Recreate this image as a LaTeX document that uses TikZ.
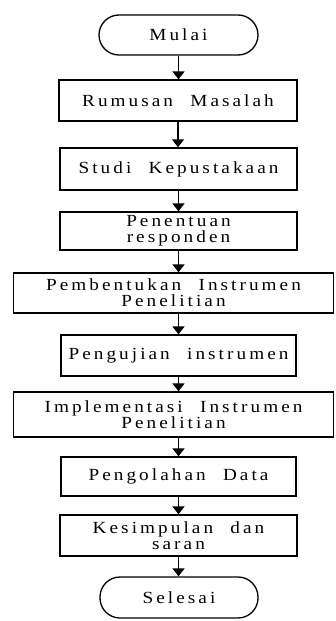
\documentclass[tikz,border=0pt]{standalone}
\usepackage{fontspec}
\setmainfont{Liberation Serif}[FakeStretch=1.13,LetterSpace=18,WordSpace=2.2]
\usetikzlibrary{arrows.meta}
\begin{document}
\begin{tikzpicture}[x=1pt,y=-1pt,
  font=\fontsize{17pt}{16pt}\selectfont,
  box/.style={draw,line width=1.3pt,rectangle,align=center,inner sep=0pt},
  term/.style={draw,line width=1.3pt,rounded corners=20pt,align=center,inner sep=0pt},
  arr/.style={line width=1.3pt,-{Triangle[width=12pt,length=8pt]}}]
\useasboundingbox (0,0) rectangle (335,621);
\node[term,minimum width=159pt,minimum height=40pt] (mulai) at (178.5,35) {Mulai};
\node[box,minimum width=238pt,minimum height=41pt] (rum) at (178,100.5) {Rumusan Masalah};
\node[box,minimum width=237pt,minimum height=42pt] (stu) at (178.5,169) {Studi Kepustakaan};
\node[box,minimum width=237pt,minimum height=38pt] (pen) at (178.5,231) {Penentuan\\responden};
\node[box,minimum width=320pt,minimum height=40pt] (pem) at (173.5,293) {Pembentukan Instrumen\\Penelitian};
\node[box,minimum width=235pt,minimum height=41pt] (uji) at (178.5,355.5) {Pengujian instrumen};
\node[box,minimum width=320pt,minimum height=45pt] (imp) at (173.5,414.5) {Implementasi Instrumen\\Penelitian};
\node[box,minimum width=235pt,minimum height=39pt] (olah) at (178.5,476.5) {Pengolahan Data};
\node[box,minimum width=237pt,minimum height=41pt] (kes) at (178.5,535.5) {Kesimpulan dan\\saran};
\node[term,minimum width=158pt,minimum height=41pt] (sel) at (179,597.5) {Selesai};
\draw[arr] (mulai.south) -- (mulai.south |- rum.north);
\draw[arr] (rum.south) -- (rum.south |- stu.north);
\draw[arr] (stu.south) -- (pen.north);
\draw[arr] (pen.south) -- (pen.south |- pem.north);
\draw[arr] (uji.north |- pem.south) -- (uji.north);
\draw[arr] (uji.south) -- (uji.south |- imp.north);
\draw[arr] (olah.north |- imp.south) -- (olah.north);
\draw[arr] (olah.south) -- (kes.north);
\draw[arr] (kes.south) -- (kes.south |- sel.north);
\end{tikzpicture}
\end{document}
